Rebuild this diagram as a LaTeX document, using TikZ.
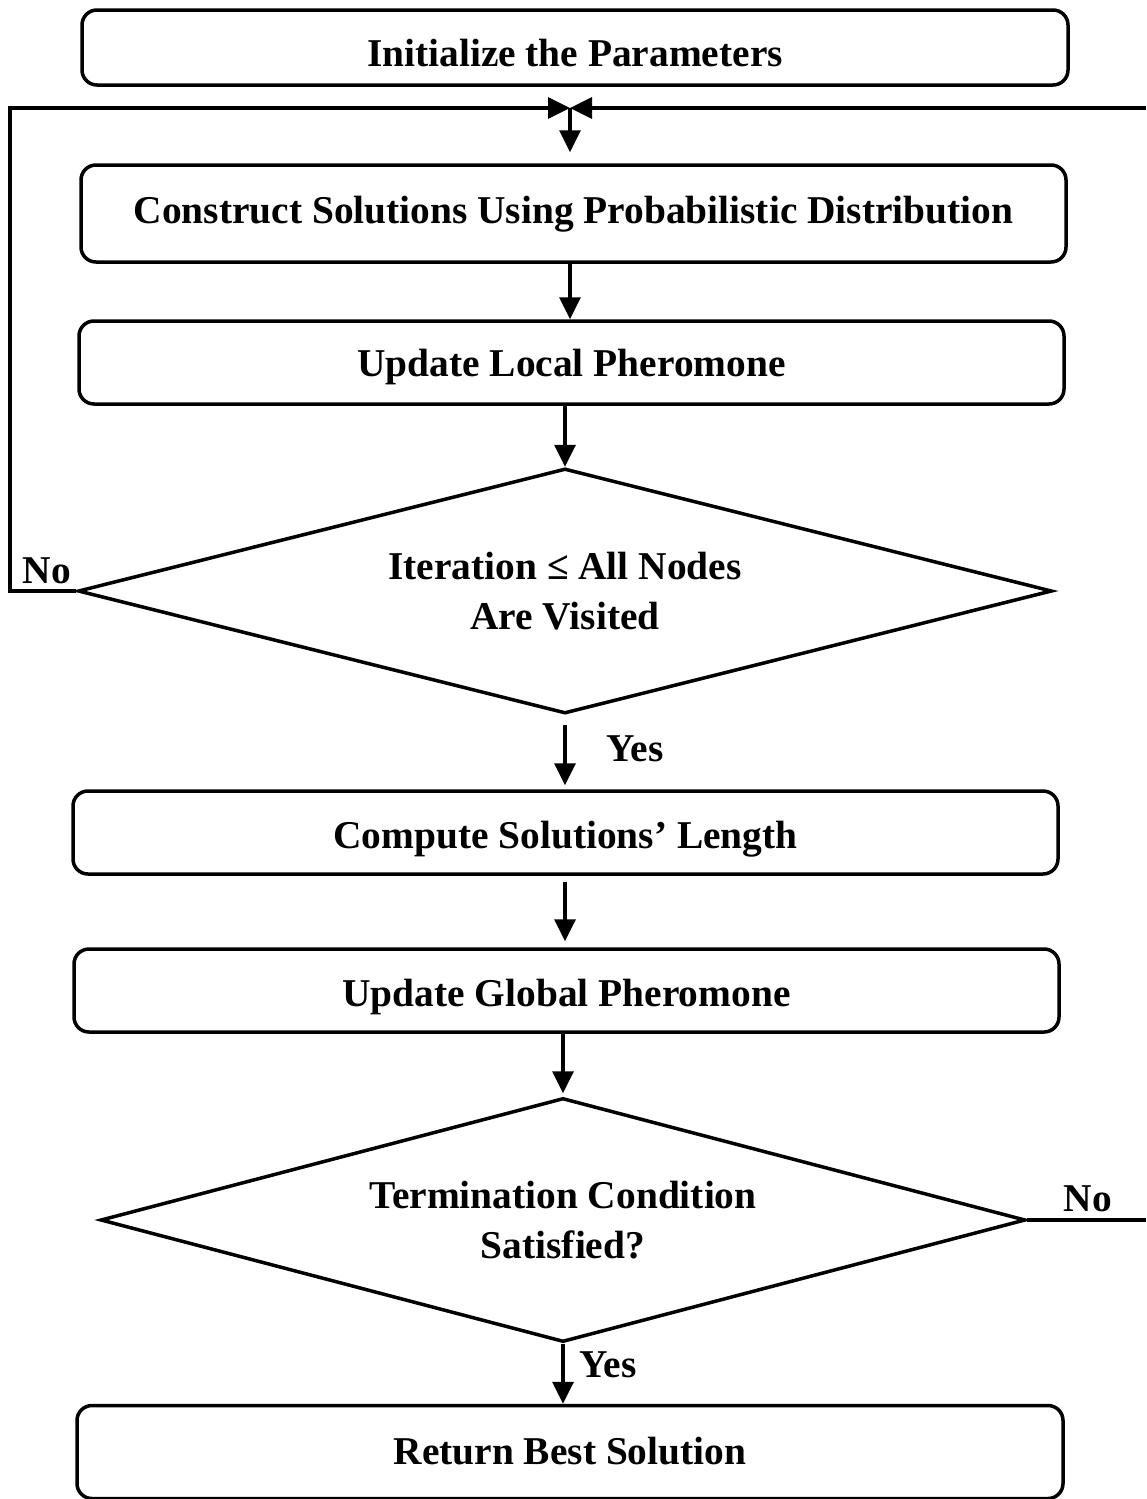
\documentclass[tikz,border=0pt]{standalone}
\usepackage{fontspec}
\setmainfont{Liberation Serif}
\usetikzlibrary{shapes.geometric,arrows.meta}
\tikzset{
  box/.style={draw, line width=3.5pt, rounded corners=15pt, minimum width=985pt, inner sep=0pt, text depth=0pt},
  dec/.style={draw, line width=3.5pt, diamond, inner sep=0pt, align=center},
  arr/.style={line width=3.5pt, -{Triangle[length=22pt,width=21pt]}},
  ln/.style={line width=3.5pt},
  lbl/.style={inner sep=0pt},
}
\begin{document}
\begin{tikzpicture}[x=1pt,y=-1pt, font=\fontsize{39.4}{50}\selectfont\bfseries]
\useasboundingbox (0,0) rectangle (1146,1499);
\node[box, minimum width=986pt, minimum height=75pt, text height=37pt] (init) at (575,47.5) {Initialize the Parameters};
\node[box, minimum height=97pt, text height=19pt] (cons) at (573.5,213.5) {Construct Solutions Using Probabilistic Distribution};
\node[box, minimum height=83pt, text height=27pt] (local) at (571.5,362.5) {Update Local Pheromone};
\node[dec, minimum width=974pt, minimum height=245pt, aspect=3.976, text depth=-7pt] (d1) at (565,591) {Iteration ≤ All Nodes\\Are Visited};
\node[box, minimum height=83pt, text height=31pt] (comp) at (565.5,832.5) {Compute Solutions’ Length};
\node[box, minimum height=83pt, text height=31pt] (glob) at (566.5,990.5) {Update Global Pheromone};
\node[dec, minimum width=925pt, minimum height=244pt, aspect=3.79, text depth=-8pt] (d2) at (563,1220) {Termination Condition\\Satisfied?};
\node[box, minimum width=986pt, minimum height=93pt, text height=25pt] (ret) at (570,1452) {Return Best Solution};

\coordinate (jn) at (570,108);
\coordinate (L) at (10,108);
\coordinate (R1) at (1146,108);
\coordinate (R2) at (1146,1220);

\draw[arr] (d1.west) -| (L) -- (jn);
\draw[arr] (R1) -- (jn);
\draw[arr, shorten >=11pt] (jn) -- (jn |- cons.north);
\draw[arr] (cons.south -| jn) -- (local.north -| jn);
\draw[arr] (local.south -| d1.north) -- (d1.north);
\draw[arr, shorten <=10pt, shorten >=4pt] (d1.south) -- (d1.south |- comp.north);
\draw[arr, shorten <=6pt, shorten >=6pt] (comp.south -| d1.south) -- (glob.north -| d1.south);
\draw[arr, shorten >=3pt] (glob.south -| d2.north) -- (d2.north);
\draw[ln] (d2.east) -- (R2);
\draw[arr] (d2.south) -- (d2.south |- ret.north);

\node[lbl] (no1) at (47,571) {No};
\node[lbl] (yes1) at (635,749) {Yes};
\node[lbl] (no2) at (1088,1199) {No};
\node[lbl] (yes2) at (608,1365) {Yes};
\end{tikzpicture}
\end{document}
